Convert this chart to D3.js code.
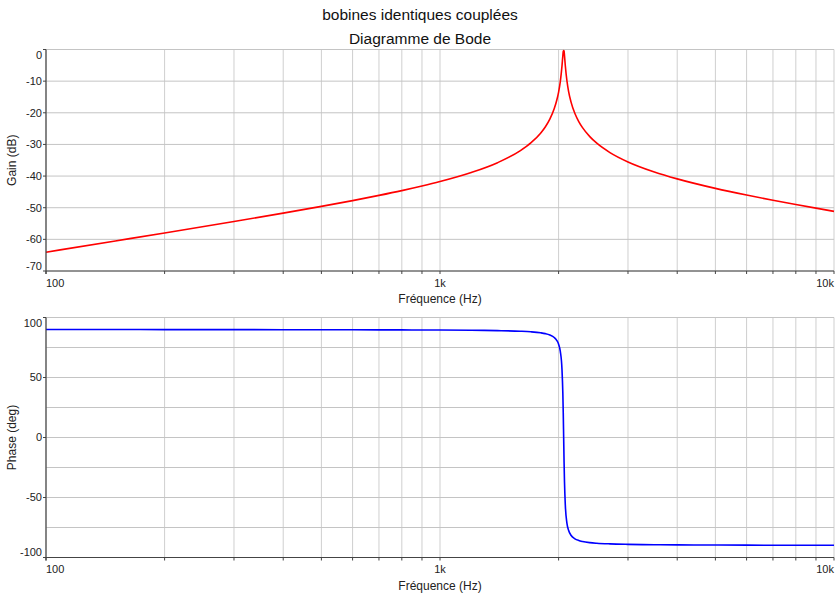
<!DOCTYPE html>
<html>
<head>
<meta charset="utf-8">
<script src="https://cdn.jsdelivr.net/npm/d3@7"></script>
<style>
  body { margin: 0; background: #fff; }
  svg { font-family: "Liberation Sans", Arial, sans-serif; }
</style>
</head>
<body>
<svg id="bode" width="840" height="594"></svg>
<script>
// frequences (Hz)
const frequences = [100, 150, 200, 300, 400, 500, 600, 700, 800, 900, 1000, 1200, 1400, 1600, 1700,
  1800, 1850, 1900, 1950, 1980, 2000, 2020, 2040, 2050, 2055, 2060, 2065, 2070, 2080, 2100, 2120,
  2150, 2200, 2250, 2300, 2400, 2500, 2700, 3000, 3500, 4000, 5000, 6000, 7000, 8000, 9000, 10000];

// gain en dB
const gainDb = [-64.06, -60.51, -57.98, -54.35, -51.70, -49.57, -47.75, -46.11, -44.60, -43.15, -41.74,
  -38.89, -35.77, -31.97, -29.54, -26.45, -24.48, -22.01, -18.67, -15.89, -13.44, -10.12, -5.18, -1.96,
  -0.58, -0.3, -0.57, -1.94, -5.12, -9.96, -13.20, -16.54, -20.23, -22.77, -24.70, -27.54, -29.62,
  -32.57, -35.53, -38.71, -40.89, -43.89, -46.00, -47.64, -48.99, -50.14, -51.15];

// phase en degres
const phaseDeg = [89.96, 89.95, 89.93, 89.89, 89.85, 89.81, 89.77, 89.72, 89.66, 89.60, 89.53, 89.35,
  89.07, 88.56, 88.09, 87.27, 86.58, 85.45, 83.31, 80.77, 77.71, 71.82, 56.57, 37.06, 20.67, 0, -20.63,
  -36.93, -56.32, -71.49, -77.36, -81.44, -84.41, -85.83, -86.66, -87.60, -88.11, -88.65, -89.04,
  -89.34, -89.48, -89.63, -89.71, -89.76, -89.80, -89.82, -89.84];

const xTickLabels = [[100, "100"], [1000, "1k"], [10000, "10k"]];
const gainTicks = [0, -10, -20, -30, -40, -50, -60, -70];
const phaseGrid = [100, 75, 50, 25, 0, -25, -50, -75, -100];
const phaseTicks = [100, 50, 0, -50, -100];

const svg = d3.select("#bode");
const gauche = 46, droite = 834;

svg.append("text").attr("x", 420).attr("y", 20).attr("text-anchor", "middle")
  .style("font-size", "15.5px").style("fill", "#111").text("bobines identiques couplées");
svg.append("text").attr("x", 420).attr("y", 44).attr("text-anchor", "middle")
  .style("font-size", "15.5px").style("fill", "#111").text("Diagramme de Bode");

const x = d3.scaleLog().domain([100, 10000]).range([gauche, droite]);
const minorFreqs = [];
for (let dec = 100; dec < 10000; dec *= 10) {
  for (let k = 1; k <= 9; k++) minorFreqs.push(dec * k);
}
minorFreqs.push(10000);

function panneau(cfg) {
  const y = d3.scaleLinear().domain(cfg.domain).range([cfg.bas, cfg.haut]);
  const g = svg.append("g");

  // grille verticale
  g.selectAll(".vgrid").data(minorFreqs).enter().append("line")
    .attr("x1", d => x(d)).attr("x2", d => x(d))
    .attr("y1", cfg.haut).attr("y2", cfg.bas)
    .style("stroke", "#cfcfcf").style("stroke-width", 1);

  // grille horizontale
  g.selectAll(".hgrid").data(cfg.grille).enter().append("line")
    .attr("x1", gauche).attr("x2", droite)
    .attr("y1", d => y(d)).attr("y2", d => y(d))
    .style("stroke", "#c4c4c4").style("stroke-width", 1);

  // courbe
  const ligne = d3.line()
    .x((d, i) => x(frequences[i]))
    .y(d => y(d))
    .curve(d3.curveMonotoneX);
  g.append("path").datum(cfg.valeurs)
    .attr("d", ligne)
    .style("fill", "none").style("stroke", cfg.couleur).style("stroke-width", 1.6);

  // axes
  g.append("line").attr("x1", gauche).attr("x2", droite).attr("y1", cfg.bas).attr("y2", cfg.bas)
    .style("stroke", "#444").style("stroke-width", 1.2);
  g.append("line").attr("x1", gauche).attr("x2", gauche).attr("y1", cfg.haut).attr("y2", cfg.bas + 3)
    .style("stroke", "#444").style("stroke-width", 1.2);

  g.selectAll(".xtick").data(minorFreqs).enter().append("line")
    .attr("x1", d => x(d)).attr("x2", d => x(d))
    .attr("y1", cfg.bas).attr("y2", cfg.bas + 3)
    .style("stroke", "#444");

  g.selectAll(".ytick").data(cfg.ticks).enter().append("line")
    .attr("x1", gauche - 3).attr("x2", gauche)
    .attr("y1", d => y(d)).attr("y2", d => y(d))
    .style("stroke", "#444");

  const [hautVal, basVal] = [cfg.domain[1], cfg.domain[0]];
  g.selectAll(".ylab").data(cfg.ticks).enter().append("text")
    .attr("x", gauche - 4)
    .attr("y", d => y(d) + (d === hautVal ? 6 : d === basVal ? -5 : 0))
    .attr("dy", "0.35em")
    .attr("text-anchor", "end")
    .style("font-size", "11px").style("fill", "#222")
    .text(d => d);

  g.selectAll(".xlab").data(xTickLabels).enter().append("text")
    .attr("x", d => x(d[0]))
    .attr("y", cfg.bas + 12)
    .attr("dy", "0.35em")
    .attr("text-anchor", (d, i) => i === 0 ? "start" : i === xTickLabels.length - 1 ? "end" : "middle")
    .style("font-size", "11px").style("fill", "#222")
    .text(d => d[1]);

  g.append("text").attr("x", (gauche + droite) / 2).attr("y", cfg.bas + 28)
    .attr("dy", "0.35em").attr("text-anchor", "middle")
    .style("font-size", "12px").style("fill", "#222").text("Fréquence (Hz)");

  g.append("text")
    .attr("transform", `translate(12,${(cfg.haut + cfg.bas) / 2}) rotate(-90)`)
    .attr("dy", "0.35em").attr("text-anchor", "middle")
    .style("font-size", "12px").style("fill", "#222").text(cfg.titre);
}

panneau({ domain: [-70, 0], haut: 49.5, bas: 271, grille: gainTicks, ticks: gainTicks,
  valeurs: gainDb, couleur: "#ff0000", titre: "Gain (dB)" });
panneau({ domain: [-100, 100], haut: 317.5, bas: 557.5, grille: phaseGrid, ticks: phaseTicks,
  valeurs: phaseDeg, couleur: "#0000ff", titre: "Phase (deg)" });
</script>
</body>
</html>
